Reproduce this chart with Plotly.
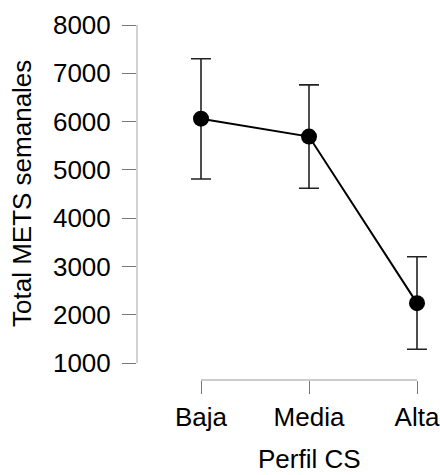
import plotly.graph_objects as go

categories = ["Baja", "Media", "Alta"]
means = [6060, 5690, 2240]
upper = [7300, 6760, 3200]
lower = [4810, 4620, 1285]
yticks = [1000, 2000, 3000, 4000, 5000, 6000, 7000, 8000]

err_plus = [u - m for u, m in zip(upper, means)]
err_minus = [m - l for m, l in zip(means, lower)]
xidx = list(range(len(categories)))

FONT = "Liberation Sans, Arial, sans-serif"
fig = go.Figure()
fig.add_trace(go.Scatter(
    x=xidx, y=means, mode="lines+markers",
    line=dict(color="black", width=2),
    marker=dict(color="black", size=16),
    error_y=dict(type="data", symmetric=False, array=err_plus, arrayminus=err_minus,
                 color="#222222", thickness=1.6, width=10),
    cliponaxis=False, showlegend=False,
))

L, T = 137, 25
W, H = 440, 475
plot_bottom = 380
ppu = (363 - 25) / 7000
ymin = 1000 - (plot_bottom - 363) / ppu
xpx = 108
xmin = -(201 - L) / xpx
xmax = (440 - 201) / xpx
pw = W - L
ph = plot_bottom - T

fig.update_layout(
    width=W, height=H,
    margin=dict(l=L, r=0, t=T, b=H - plot_bottom),
    plot_bgcolor="white", paper_bgcolor="white",
    font=dict(family=FONT, size=26, color="black"),
    xaxis=dict(range=[xmin, xmax], tickvals=xidx, ticktext=categories,
               showgrid=False, zeroline=False, showline=False,
               ticks="outside", ticklen=13, tickcolor="#777777", tickwidth=1.3,
               tickfont=dict(size=26), ticklabelstandoff=1),
    yaxis=dict(range=[ymin, 8000], tickvals=yticks,
               showgrid=False, zeroline=False, showline=False,
               ticks="outside", ticklen=14, tickcolor="#777777", tickwidth=1.3,
               tickfont=dict(size=26), ticklabelstandoff=6),
    shapes=[
        dict(type="line", xref="x", yref="paper", x0=0, x1=2, y0=0, y1=0,
             line=dict(color="#bbbbbb", width=1.3)),
        dict(type="line", xref="paper", yref="y", x0=0, x1=0, y0=1000, y1=8000,
             line=dict(color="#bbbbbb", width=1.3)),
    ],
    annotations=[
        dict(text="Perfil CS", xref="x", yref="paper", x=1, y=(plot_bottom - 459) / ph,
             xanchor="center", yanchor="middle", showarrow=False, font=dict(size=26)),
        dict(text="Total METS semanales", xref="paper", yref="y", x=(22 - L) / pw, y=4500,
             xanchor="center", yanchor="middle", textangle=-90, showarrow=False,
             font=dict(size=26)),
    ],
)

fig.write_html("out.html")
